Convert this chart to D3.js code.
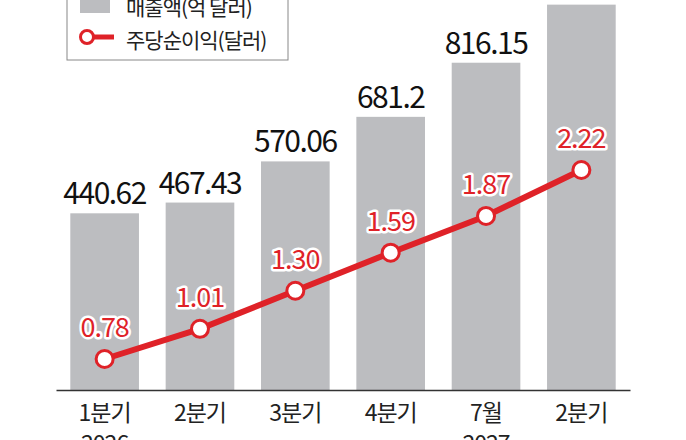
<!DOCTYPE html>
<html>
<head>
<meta charset="utf-8">
<script src="https://cdn.jsdelivr.net/npm/d3@7"></script>
<style>
  body { margin: 0; background: #fff; }
  text { font-family: "Noto Sans CJK KR", "Noto Sans", sans-serif; }
</style>
</head>
<body>
<div id="chart"></div>
<script>
// categories (two-line tick labels)
var quarters = ["1분기", "2분기", "3분기", "4분기", "7월", "2분기"];
var years = ["2026", "", "", "", "2027", ""];
// revenue, 100 million dollars
var revenue = [440.62, 467.43, 570.06, 681.2, 816.15, 961];
var revenueLabels = ["440.62", "467.43", "570.06", "681.2", "816.15", ""];
// earnings per share, dollars
var eps = [0.78, 1.01, 1.30, 1.59, 1.87, 2.22];
var epsLabels = ["0.78", "1.01", "1.30", "1.59", "1.87", "2.22"];

var width = 686, height = 440;
var red = "#df2228", gray = "#bcbdc0";

var svg = d3.select("#chart").append("svg")
  .attr("width", width)
  .attr("height", height);

var x = d3.scaleBand()
  .domain(d3.range(quarters.length))
  .range([56, 630])
  .paddingInner(0.28)
  .paddingOuter(0.15);

var y = d3.scaleLinear().domain([0, 1000]).range([390, -11]);
var y2 = d3.scaleLinear().domain([0, 3]).range([461.4, 67.6]);

// bars
svg.append("g")
  .selectAll("rect")
  .data(revenue)
  .enter()
  .append("rect")
    .attr("x", function(d, i) { return x(i); })
    .attr("y", function(d) { return y(d); })
    .attr("width", x.bandwidth())
    .attr("height", function(d) { return y(0) - y(d); })
    .attr("fill", gray);

// bar value labels
svg.append("g")
  .selectAll("text")
  .data(revenue)
  .enter()
  .append("text")
    .attr("x", function(d, i) { return x(i) + x.bandwidth() / 2; })
    .attr("y", function(d) { return y(d) - 9; })
    .attr("text-anchor", "middle")
    .attr("font-size", 30)
    .attr("letter-spacing", -1.5)
    .attr("fill", "#111")
    .text(function(d, i) { return revenueLabels[i]; });

// x axis
var axis = svg.append("g")
  .attr("transform", "translate(0," + y(0) + ")")
  .call(d3.axisBottom(x).tickSize(0).tickSizeOuter(0).tickFormat(function(d) { return quarters[d]; }));
axis.select(".domain").attr("stroke", "#333").attr("stroke-width", 1.5);
axis.selectAll(".tick text")
  .attr("y", 31)
  .attr("dy", null)
  .attr("fill", "#222")
  .attr("font-size", 23)
  .attr("font-family", null)
  .attr("letter-spacing", -1);

// year line under the ticks
svg.append("g")
  .selectAll("text")
  .data(years)
  .enter()
  .append("text")
    .attr("x", function(d, i) { return x(i) + x.bandwidth() / 2; })
    .attr("y", y(0) + 62)
    .attr("text-anchor", "middle")
    .attr("fill", "#222")
    .attr("font-size", 23)
    .attr("letter-spacing", -1)
    .text(function(d) { return d; });

// eps line
var line = d3.line()
  .x(function(d, i) { return x(i) + x.bandwidth() / 2; })
  .y(function(d) { return y2(d); });

svg.append("path")
  .datum(eps)
  .attr("d", line)
  .attr("fill", "none")
  .attr("stroke", red)
  .attr("stroke-width", 6);

svg.append("g")
  .selectAll("circle")
  .data(eps)
  .enter()
  .append("circle")
    .attr("cx", function(d, i) { return x(i) + x.bandwidth() / 2; })
    .attr("cy", function(d) { return y2(d); })
    .attr("r", 8.5)
    .attr("fill", "#fff")
    .attr("stroke", red)
    .attr("stroke-width", 3);

svg.append("g")
  .selectAll("text")
  .data(eps)
  .enter()
  .append("text")
    .attr("x", function(d, i) { return x(i) + x.bandwidth() / 2; })
    .attr("y", function(d) { return y2(d) - 22; })
    .attr("text-anchor", "middle")
    .attr("font-size", 27)
    .attr("letter-spacing", -1)
    .attr("fill", red)
    .attr("stroke", "#fff")
    .attr("stroke-width", 5)
    .attr("stroke-linejoin", "round")
    .attr("paint-order", "stroke")
    .text(function(d, i) { return epsLabels[i]; });

// legend
var legend = svg.append("g");
legend.append("rect")
  .attr("x", 67).attr("y", -10)
  .attr("width", 221).attr("height", 70)
  .attr("fill", "#fff")
  .attr("stroke", "#888")
  .attr("stroke-width", 1);
legend.append("rect")
  .attr("x", 80).attr("y", -4)
  .attr("width", 30).attr("height", 17)
  .attr("fill", gray);
legend.append("text")
  .attr("x", 126).attr("y", 15)
  .attr("font-size", 21)
  .attr("letter-spacing", -1)
  .attr("fill", "#222")
  .text("매출액(억 달러)");
legend.append("line")
  .attr("x1", 87).attr("x2", 114)
  .attr("y1", 37).attr("y2", 37)
  .attr("stroke", red).attr("stroke-width", 5);
legend.append("circle")
  .attr("cx", 87).attr("cy", 37).attr("r", 6.5)
  .attr("fill", "#fff")
  .attr("stroke", red).attr("stroke-width", 3);
legend.append("text")
  .attr("x", 126).attr("y", 48)
  .attr("font-size", 21)
  .attr("letter-spacing", -1)
  .attr("fill", "#222")
  .text("주당순이익(달러)");
</script>
</body>
</html>
